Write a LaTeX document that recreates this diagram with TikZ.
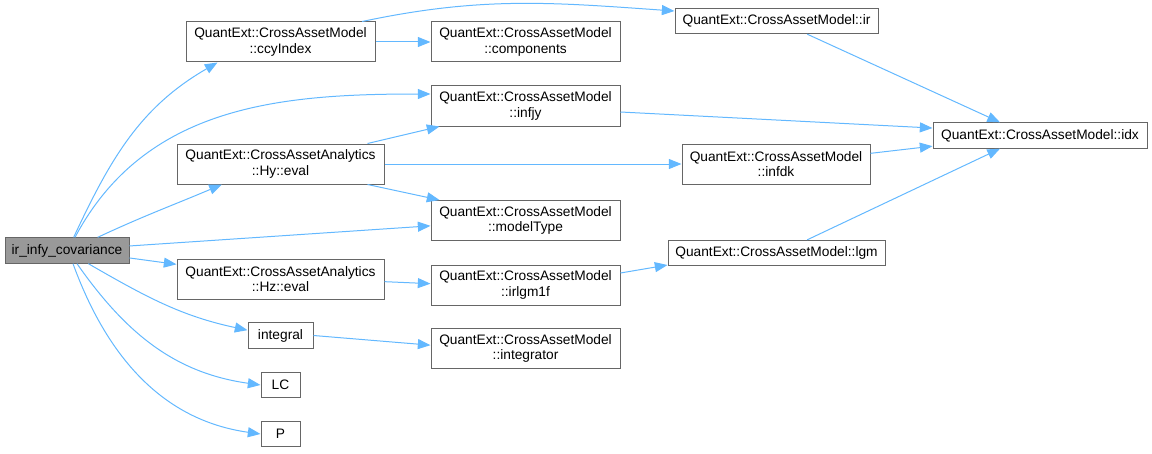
\documentclass[tikz,border=0pt]{standalone}
\usepackage{fontspec}
\setmainfont{Liberation Sans}
\usetikzlibrary{arrows.meta}
\definecolor{edgeblue}{HTML}{63B8FF}
\definecolor{frame}{HTML}{666666}
\definecolor{callerfill}{HTML}{999999}
\tikzset{
  fn/.style={draw=frame,fill=white,line width=0.75pt,align=center,inner sep=0pt,minimum height=30pt,font=\fontsize{10.3}{11.6}\selectfont},
  fnw/.style={fn,minimum width=141.75pt},
  fns/.style={fn,minimum height=19pt},
  fnroot/.style={fns,fill=callerfill,minimum width=93pt},
  call/.style={-{Triangle[length=9.5pt,width=7.5pt]},line width=0.75pt,color=edgeblue},
}

\begin{document}
\begin{tikzpicture}[x=0.75pt,y=0.75pt]
\useasboundingbox (0,0) rectangle (1152,-453);
\node[fnroot] (cov) at (67,-250.5) {ir\_infy\_covariance};
\node[fnw] (ccy) at (280.5,-42) {QuantExt::CrossAssetModel\\::ccyIndex};
\node[fn,minimum width=155.25pt] (hy) at (280.5,-164) {QuantExt::CrossAssetAnalytics\\::Hy::eval};
\node[fn,minimum width=155.25pt] (hz) at (280.5,-279) {QuantExt::CrossAssetAnalytics\\::Hz::eval};
\node[fns,minimum width=48.75pt] (integral) at (280.5,-335.5) {integral};
\node[fns,minimum width=29.25pt] (lc) at (280.5,-385) {LC};
\node[fns,minimum width=29.25pt] (p) at (280.5,-434) {P};
\node[fnw] (comp) at (525.5,-42) {QuantExt::CrossAssetModel\\::components};
\node[fnw] (infjy) at (525.5,-106) {QuantExt::CrossAssetModel\\::infjy};
\node[fnw] (mtype) at (525.5,-220.5) {QuantExt::CrossAssetModel\\::modelType};
\node[fnw] (irlgm) at (525.5,-285) {QuantExt::CrossAssetModel\\::irlgm1f};
\node[fnw] (integrator) at (525.5,-348.5) {QuantExt::CrossAssetModel\\::integrator};
\node[fns,minimum width=152.25pt] (ir) at (776.5,-21) {QuantExt::CrossAssetModel::ir};
\node[fn,minimum width=141pt] (infdk) at (776,-164) {QuantExt::CrossAssetModel\\::infdk};
\node[fns,minimum width=162.75pt] (lgm) at (776.5,-253) {QuantExt::CrossAssetModel::lgm};
\node[fns,minimum width=160.5pt] (idx) at (1040,-135.5) {QuantExt::CrossAssetModel::idx};
\draw[call] ([xshift=5pt]cov.north) to[out=65,in=210] ([xshift=24pt]ccy.south west);
\draw[call] ([xshift=6pt]cov.north) to[out=62,in=180] ([yshift=9pt]infjy.west);
\draw[call] ([xshift=23pt]cov.north) to[out=25,in=203] ([xshift=34pt]hy.south west);
\draw[call] ([yshift=3.4pt]cov.east) -- ([yshift=-4pt]mtype.west);
\draw[call] ([yshift=-5.6pt]cov.east) -- ([yshift=11pt]hz.west);
\draw[call] ([xshift=16pt]cov.south) to[out=-30,in=168] ([yshift=4pt]integral.west);
\draw[call] ([xshift=7.5pt]cov.south) to[out=-55,in=172] (lc.west);
\draw[call] ([xshift=4.5pt]cov.south) to[out=-70,in=172] (p.west);
\draw[call] ([xshift=-10pt]ccy.north east) to[out=12,in=176] ([yshift=7.5pt]ir.west);
\draw[call] (ccy) -- (comp);
\draw[call] ([xshift=-12.75pt]hy.north east) -- ([xshift=6.75pt]infjy.south west);
\draw[call] (hy) -- (infdk);
\draw[call] ([xshift=-12.75pt]hy.south east) -- ([xshift=6.75pt]mtype.north west);
\draw[call] ([yshift=-2pt]hz.east) -- ([yshift=1pt]irlgm.west);
\draw[call] (integral.east) -- ([yshift=2.5pt]integrator.west);
\draw[call] ([yshift=-4.5pt]infjy.east) -- ([yshift=5.6pt]idx.west);
\draw[call] ([yshift=8pt]infdk.east) -- ([yshift=-8pt]idx.west);
\draw[call] ([xshift=23pt]ir.south) -- ([xshift=-30pt]idx.north);
\draw[call] ([yshift=9pt]irlgm.east) -- ([yshift=-9pt]lgm.west);
\draw[call] ([xshift=23pt]lgm.north) -- ([xshift=-30pt]idx.south);
\end{tikzpicture}
\end{document}
